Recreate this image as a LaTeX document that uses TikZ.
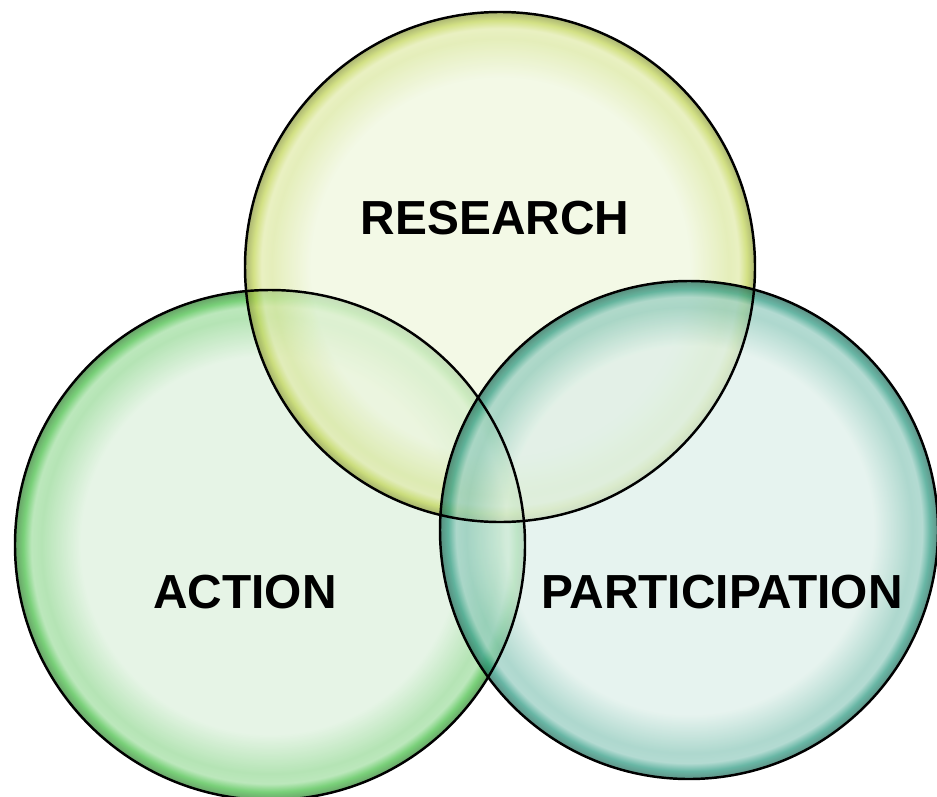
\documentclass[tikz,border=0pt]{standalone}
\usepackage{fontspec}
\setmainfont{Liberation Sans}
\usepackage{xcolor}

\definecolor{resin}{HTML}{EEF6DC}
\definecolor{resrim}{HTML}{C0D450}
\definecolor{actin}{HTML}{DCF0DC}
\definecolor{actrim}{HTML}{3FBC3F}
\definecolor{parin}{HTML}{DCEEE8}
\definecolor{parrim}{HTML}{28987F}

\pgfdeclareradialshading{resshade}{\pgfpoint{0bp}{0bp}}{color(0bp)=(resin); color(18.5bp)=(resin); color(22.4bp)=(resrim!45!resin); color(23.4bp)=(white!50!resrim); color(24.2bp)=(resrim); color(25bp)=(resrim!70!black); color(50bp)=(resrim!70!black)}
\pgfdeclareradialshading{actshade}{\pgfpoint{0bp}{0bp}}{color(0bp)=(actin); color(18.5bp)=(actin); color(22.4bp)=(actrim!45!actin); color(23.4bp)=(white!50!actrim); color(24.2bp)=(actrim); color(25bp)=(actrim!65!black); color(50bp)=(actrim!65!black)}
\pgfdeclareradialshading{parshade}{\pgfpoint{0bp}{0bp}}{color(0bp)=(parin); color(18.5bp)=(parin); color(22.4bp)=(parrim!45!parin); color(23.4bp)=(white!50!parrim); color(24.2bp)=(parrim); color(25bp)=(parrim!65!black); color(50bp)=(parrim!65!black)}

\tikzset{
    bubble/.style={fill opacity=0.7},
    rimline/.style={draw=black, line width=0.7pt},
    venntext/.style={font=\bfseries\fontsize{13.6}{16}\selectfont, text=black}
}

\begin{document}
\begin{tikzpicture}[x=0.01cm, y=0.01cm]
    \useasboundingbox (0,0) rectangle (937,796);
    \clip (0,0) rectangle (937,796);
    % the three circles
    \foreach \cx/\cy/\rr/\sh in {270/251/255/actshade, 500/529/255/resshade, 689/266/249/parshade}
        \path [bubble, shading=\sh] (\cx,\cy) circle [radius=\rr];
    \foreach \cx/\cy/\rr in {270/251/255, 500/529/255, 689/266/249}
        \draw [rimline] (\cx,\cy) circle [radius=\rr];
    % labels
    \node [venntext] (research) at (495,578) {RESEARCH};
    \node [venntext] (action) at (245,204) {ACTION};
    \node [venntext] (participation) at (722,204) {PARTICIPATION};
\end{tikzpicture}
\end{document}
